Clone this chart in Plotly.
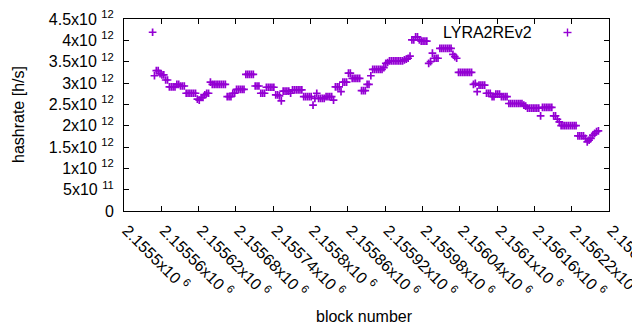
import plotly.graph_objects as go

# block numbers (sampled every 3 blocks) and hashrate in units of 10^12 h/s
blocks = list(range(2155546, 2155546 + 3 * 240, 3))
hashrate_e12 = [
    4.19, 3.17, 3.29, 3.29, 3.22, 3.19, 3.19, 3.07, 3.07, 2.91,
    2.91, 2.91, 2.91, 2.97, 2.97, 2.93, 2.93, 2.93, 2.76, 2.76,
    2.76, 2.76, 2.76, 2.76, 2.62, 2.60, 2.66, 2.66, 2.72, 2.76,
    2.76, 3.02, 2.97, 2.97, 2.97, 2.97, 2.97, 2.97, 2.97, 2.97,
    2.68, 2.68, 2.68, 2.76, 2.76, 2.85, 2.85, 2.85, 2.85, 2.85,
    3.20, 3.20, 3.20, 3.20, 3.20, 2.93, 2.93, 2.93, 2.76, 2.76,
    2.76, 2.90, 2.90, 2.90, 2.90, 2.90, 2.72, 2.72, 2.70, 2.58,
    2.81, 2.81, 2.81, 2.81, 2.76, 2.84, 2.84, 2.84, 2.84, 2.84,
    2.84, 2.68, 2.68, 2.68, 2.68, 2.68, 2.48, 2.64, 2.76, 2.64,
    2.64, 2.64, 2.64, 2.68, 2.68, 2.68, 2.68, 2.60, 2.91, 2.91,
    2.91, 2.80, 3.02, 3.02, 3.02, 3.23, 3.23, 3.11, 3.11, 3.11,
    3.11, 3.11, 2.82, 2.82, 2.82, 2.97, 2.97, 3.17, 3.32, 3.32,
    3.32, 3.32, 3.32, 3.32, 3.36, 3.46, 3.48, 3.52, 3.52, 3.52,
    3.52, 3.52, 3.52, 3.52, 3.52, 3.54, 3.56, 3.58, 3.63, 4.01,
    4.01, 4.08, 4.08, 4.01, 3.98, 3.98, 3.98, 3.98, 3.46, 3.50,
    3.70, 3.58, 3.58, 3.58, 3.81, 3.81, 3.81, 3.81, 3.81, 3.81,
    3.81, 3.67, 3.62, 3.58, 3.25, 3.25, 3.25, 3.25, 3.25, 3.25,
    3.25, 3.25, 2.97, 2.99, 2.80, 2.95, 2.95, 2.95, 2.95, 2.76,
    2.76, 2.76, 2.68, 2.68, 2.74, 2.74, 2.74, 2.68, 2.68, 2.68,
    2.68, 2.52, 2.52, 2.52, 2.52, 2.52, 2.52, 2.52, 2.52, 2.48,
    2.46, 2.41, 2.41, 2.41, 2.41, 2.41, 2.41, 2.41, 2.23, 2.43,
    2.43, 2.43, 2.43, 2.43, 2.43, 2.23, 2.23, 2.15, 2.09, 2.00,
    2.00, 2.00, 2.00, 2.00, 2.00, 2.00, 2.00, 2.00, 1.76, 1.76,
    1.76, 1.76, 1.70, 1.62, 1.66, 1.70, 1.78, 1.82, 1.86, 1.88,
]
hashrate = [v * 1e12 for v in hashrate_e12]

series_name = "LYRA2REv2"
x_tick_vals = [2155500, 2155560, 2155620, 2155680, 2155740, 2155800, 2155860,
               2155920, 2155980, 2156040, 2156100, 2156160, 2156220, 2156280]
x_tick_text = ["2.1555x10 <sup>6</sup>", "2.15556x10 <sup>6</sup>", "2.15562x10 <sup>6</sup>",
               "2.15568x10 <sup>6</sup>", "2.15574x10 <sup>6</sup>", "2.1558x10 <sup>6</sup>",
               "2.15586x10 <sup>6</sup>", "2.15592x10 <sup>6</sup>", "2.15598x10 <sup>6</sup>",
               "2.15604x10 <sup>6</sup>", "2.1561x10 <sup>6</sup>", "2.15616x10 <sup>6</sup>",
               "2.15622x10 <sup>6</sup>", "2.15628x10 <sup>6</sup>"]
y_tick_vals = [0, 0.5e12, 1e12, 1.5e12, 2e12, 2.5e12, 3e12, 3.5e12, 4e12, 4.5e12]
y_tick_text = ["0", "5x10 <sup>11</sup>", "1x10 <sup>12</sup>", "1.5x10 <sup>12</sup>",
               "2x10 <sup>12</sup>", "2.5x10 <sup>12</sup>", "3x10 <sup>12</sup>",
               "3.5x10 <sup>12</sup>", "4x10 <sup>12</sup>", "4.5x10 <sup>12</sup>"]

color = "#9400D3"
FONT = "Liberation Sans, Arial, sans-serif"

fig = go.Figure()
fig.add_trace(go.Scatter(
    x=blocks, y=hashrate, mode="markers", name=series_name, showlegend=False,
    marker=dict(symbol="cross-thin", size=5.5, color=color,
                line=dict(color=color, width=1.7)),
))

# page body has an 8px margin, so the figure is drawn 8px in from the window corner
OFF = 8
W, H = 640 - OFF, 330 - OFF
L, T = 124 - OFF, 19 - OFF
pw, ph = 485, 192
R = W - L - pw
B = H - T - ph

def px(xp):
    return (xp - OFF - L) / pw

def py(yp):
    return (T + ph - (yp - OFF)) / ph

fig.update_layout(
    width=W, height=H,
    margin=dict(l=L, r=R, t=T, b=B, autoexpand=False),
    paper_bgcolor="white", plot_bgcolor="white",
    font=dict(family=FONT, size=16, color="black"),
    xaxis=dict(range=[2155500, 2156280], tickmode="array", tickvals=x_tick_vals,
               ticktext=x_tick_text, tickangle=45, ticks="inside", ticklen=5,
               tickcolor="black", showline=True, linecolor="black", linewidth=1,
               mirror="ticks", showgrid=False, zeroline=False, automargin=False,
               ticklabeloverflow="allow", ticklabelstandoff=3, ticklabelshift=3,
               tickfont=dict(family=FONT, size=16, color="black")),
    yaxis=dict(range=[0, 4.5e12], tickmode="array", tickvals=y_tick_vals,
               ticktext=y_tick_text, ticks="inside", ticklen=5, tickcolor="black",
               showline=True, linecolor="black", linewidth=1, mirror="ticks",
               showgrid=False, zeroline=False, automargin=False,
               ticklabeloverflow="allow", ticklabelstandoff=6,
               tickfont=dict(family=FONT, size=16, color="black")),
    annotations=[
        dict(text="hashrate [h/s]", xref="paper", yref="paper", x=px(18), y=py(115),
             textangle=-90, showarrow=False, xanchor="center", yanchor="middle",
             font=dict(family=FONT, size=16, color="black")),
        dict(text="block number", xref="paper", yref="paper", x=px(364), y=py(316),
             showarrow=False, xanchor="center", yanchor="middle",
             font=dict(family=FONT, size=16, color="black")),
        dict(text=series_name, xref="paper", yref="paper", x=px(534), y=py(32),
             showarrow=False, xanchor="right", yanchor="middle",
             font=dict(family=FONT, size=16, color="black")),
    ],
    shapes=[
        dict(type="line", xref="paper", yref="paper", x0=px(563.5), x1=px(571.5),
             y0=py(32.5), y1=py(32.5), line=dict(color=color, width=1.4)),
        dict(type="line", xref="paper", yref="paper", x0=px(567.5), x1=px(567.5),
             y0=py(28.5), y1=py(36.5), line=dict(color=color, width=1.4)),
    ],
)

fig.write_html("out.html")
